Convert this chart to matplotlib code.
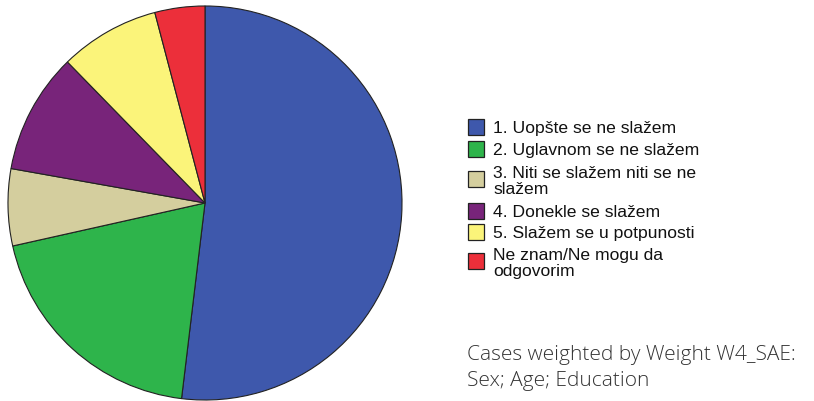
import matplotlib
matplotlib.use("Agg")
import matplotlib.pyplot as plt
from matplotlib.patches import Rectangle

labels = [
    "1. Uopšte se ne slažem",
    "2. Uglavnom se ne slažem",
    "3. Niti se slažem niti se ne\nslažem",
    "4. Donekle se slažem",
    "5. Slažem se u potpunosti",
    "Ne znam/Ne mogu da\nodgovorim",
]
values = [51.9, 19.6, 6.3, 9.9, 8.2, 4.1]
colors = ["#3E58AC", "#2EB44B", "#D4CE9E", "#78247A", "#FBF47A", "#EC2F3A"]
note = "Cases weighted by Weight W4_SAE:\nSex; Age; Education"

W, H = 814, 402
fig = plt.figure(figsize=(W / 100, H / 100), dpi=100)
fig.patch.set_facecolor("white")

ax = fig.add_axes([7 / W, 0 / H, 396 / W, 396 / H])
ax.pie(values, colors=colors, startangle=90, counterclock=False,
       wedgeprops=dict(edgecolor="#222222", linewidth=0.8), radius=1.0)
ax.set_xlim(-1.005, 1.005)
ax.set_ylim(-1.005, 1.005)
ax.set_aspect("equal")
ax.axis("off")

# legend (manual layout, pixel positions from top)
box_centers = [127.5, 149.5, 179.5, 212, 232.5, 261.5]
box = 16
for lab, col, yc in zip(labels, colors, box_centers):
    fig.add_artist(Rectangle((468 / W, 1 - (yc + box / 2) / H), box / W, box / H,
                             transform=fig.transFigure, facecolor=col,
                             edgecolor="#222222", linewidth=0.9))
    dy = 2 if "\n" in lab else 1
    fig.text(493 / W, 1 - (yc + dy) / H, lab, ha="left", va="center",
             family="Liberation Sans", fontsize=12.6, color="#111111",
             linespacing=1.05)

fig.text(467 / W, 1 - 345 / H, note, ha="left", va="top",
         family="Open Sans", fontweight="light", fontsize=15.0,
         color="#333333", linespacing=1.38)

fig.savefig("out.png", dpi=100)
